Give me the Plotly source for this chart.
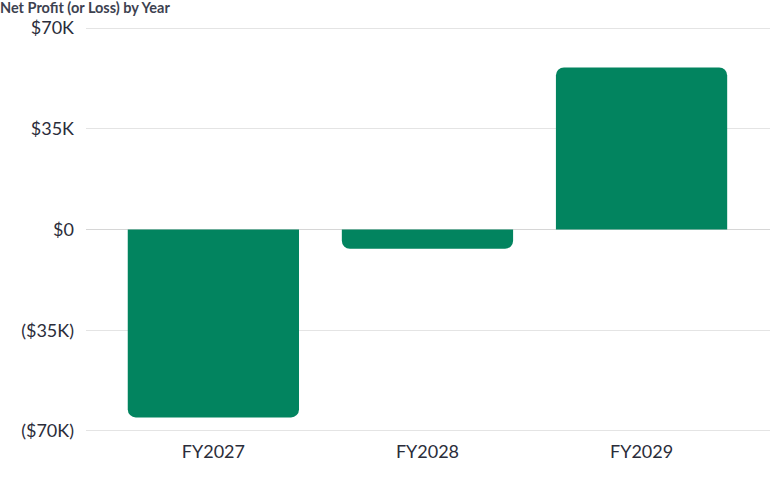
import plotly.graph_objects as go

categories = ["FY2027", "FY2028", "FY2029"]
net_profit = [-65300, -6700, 56300]
tick_values = [-70000, -35000, 0, 35000, 70000]
tick_labels = ["($70K)", "($35K)", "$0", "$35K", "$70K"]

fig = go.Figure(
    go.Bar(
        x=categories,
        y=net_profit,
        width=0.8,
        marker=dict(color="#02845F", cornerradius=8, line=dict(width=0)),
        hoverinfo="x+y",
    )
)

fig.update_layout(
    width=770,
    height=477,
    margin=dict(l=86, r=0, t=27, b=45),
    paper_bgcolor="white",
    plot_bgcolor="white",
    showlegend=False,
    font=dict(family="Lato, Open Sans, sans-serif", color="#2b2d3a"),
    title=dict(
        text="<b>Net Profit (or Loss) by Year</b>",
        x=0,
        xref="container",
        xanchor="left",
        y=1 - 8 / 477,
        yref="container",
        yanchor="middle",
        font=dict(size=14.5, color="#3d4250", family="Lato, Open Sans, sans-serif"),
    ),
    xaxis=dict(
        range=[-0.595, 2.6],
        showgrid=False,
        zeroline=False,
        showline=False,
        ticks="",
        tickfont=dict(size=18, color="#2b2d3a"),
        ticklabelstandoff=7,
    ),
    yaxis=dict(
        range=[-70350, 70350],
        tickvals=tick_values,
        ticktext=tick_labels,
        showgrid=True,
        gridcolor="#e4e4e4",
        gridwidth=1,
        zeroline=True,
        zerolinecolor="#d6d6d6",
        zerolinewidth=1,
        showline=False,
        ticks="",
        tickfont=dict(size=18, color="#2b2d3a"),
        ticklabelstandoff=11,
    ),
)

fig.write_html(
    "out.html",
    config={"displayModeBar": False},
    post_script="document.body.style.margin='0';document.body.style.padding='0';",
)
